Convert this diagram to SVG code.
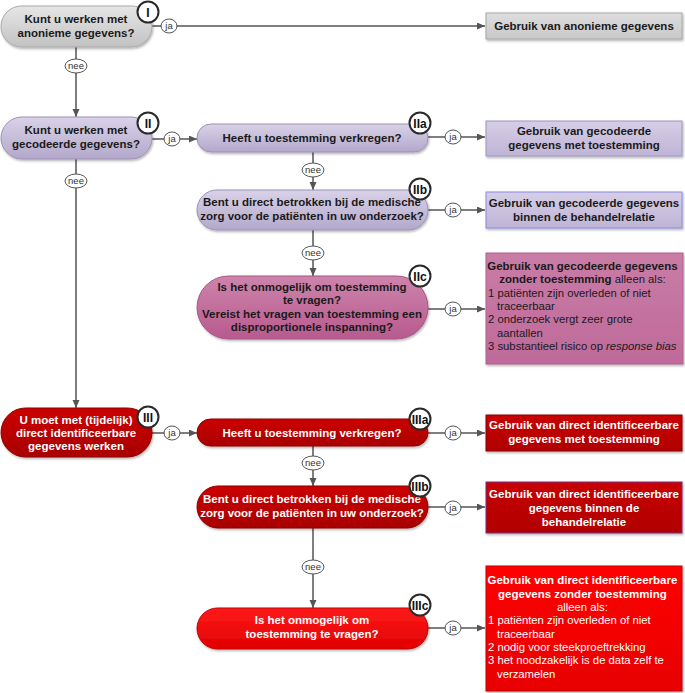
<svg xmlns="http://www.w3.org/2000/svg" width="685" height="693" viewBox="0 0 685 693">
<style>
text{font-family:"Liberation Sans",Arial,sans-serif;font-size:11.3px;}
.q{font-weight:bold;font-size:11.5px;fill:#1a1a1a;text-anchor:middle;}
.qw{font-weight:bold;font-size:11.5px;fill:#ffffff;text-anchor:middle;}
.bd{font-weight:bold;font-size:11.5px;}
.c{text-anchor:middle;}
.badge{fill:#ffffff;stroke:#2a2a2a;stroke-width:2;}
.bt{font-weight:bold;font-size:12px;fill:#111;text-anchor:middle;}
.conn{fill:none;stroke:#555555;stroke-width:1.5;}
.lbl{fill:#ffffff;stroke:#555555;stroke-width:1;}
.lt{font-size:9.5px;fill:#333;text-anchor:middle;}
</style>
<defs>
<linearGradient id="gGrey" x1="0" y1="0" x2="0" y2="1"><stop offset="0" stop-color="#e6e6e6"/><stop offset="1" stop-color="#c2c2c2"/></linearGradient>
<linearGradient id="gGreyBox" x1="0" y1="0" x2="0" y2="1"><stop offset="0" stop-color="#dedede"/><stop offset="1" stop-color="#c8c8c8"/></linearGradient>
<linearGradient id="gPur" x1="0" y1="0" x2="0" y2="1"><stop offset="0" stop-color="#d9d2e8"/><stop offset="1" stop-color="#b3a8cb"/></linearGradient>
<linearGradient id="gPurBox" x1="0" y1="0" x2="0" y2="1"><stop offset="0" stop-color="#d6cee6"/><stop offset="1" stop-color="#bfb4d6"/></linearGradient>
<linearGradient id="gPink" x1="0" y1="0" x2="0" y2="1"><stop offset="0" stop-color="#cd84ab"/><stop offset="1" stop-color="#b85a8e"/></linearGradient>
<linearGradient id="gPinkBox" x1="0" y1="0" x2="0" y2="1"><stop offset="0" stop-color="#c97ca6"/><stop offset="1" stop-color="#bf6a9a"/></linearGradient>
<linearGradient id="gRed" x1="0" y1="0" x2="0" y2="1"><stop offset="0" stop-color="#cc0000"/><stop offset="1" stop-color="#a80000"/></linearGradient>
<linearGradient id="gRedBox" x1="0" y1="0" x2="0" y2="1"><stop offset="0" stop-color="#c80000"/><stop offset="1" stop-color="#b00000"/></linearGradient>
<linearGradient id="gBright" x1="0" y1="0" x2="0" y2="1"><stop offset="0" stop-color="#ff1a1a"/><stop offset="1" stop-color="#e00000"/></linearGradient>
<linearGradient id="gBrightBox" x1="0" y1="0" x2="0" y2="1"><stop offset="0" stop-color="#ff0000"/><stop offset="1" stop-color="#e80000"/></linearGradient>
<filter id="sh" x="-10%" y="-20%" width="130%" height="150%"><feDropShadow dx="1" dy="1.5" stdDeviation="1.2" flood-color="#000" flood-opacity="0.3"/></filter>
<marker id="arr" markerUnits="userSpaceOnUse" markerWidth="9" markerHeight="8" refX="8" refY="3.5" orient="auto"><path d="M0,0 L8,3.5 L0,7 z" fill="#555555"/></marker>
</defs>

<g id="connectors">
<path class="conn" d="M152,26 H485" marker-end="url(#arr)"/>
<path class="conn" d="M76,47 V117" marker-end="url(#arr)"/>
<path class="conn" d="M152,139 H197" marker-end="url(#arr)"/>
<path class="conn" d="M428,137 H485" marker-end="url(#arr)"/>
<path class="conn" d="M313,152 V190" marker-end="url(#arr)"/>
<path class="conn" d="M428,210 H485" marker-end="url(#arr)"/>
<path class="conn" d="M313,230 V276" marker-end="url(#arr)"/>
<path class="conn" d="M428,309 H485" marker-end="url(#arr)"/>
<path class="conn" d="M76,159 V408" marker-end="url(#arr)"/>
<path class="conn" d="M152,433 H197" marker-end="url(#arr)"/>
<path class="conn" d="M428,433 H485" marker-end="url(#arr)"/>
<path class="conn" d="M313,446 V486" marker-end="url(#arr)"/>
<path class="conn" d="M428,507 H485" marker-end="url(#arr)"/>
<path class="conn" d="M313,528 V608" marker-end="url(#arr)"/>
<path class="conn" d="M428,628 H485" marker-end="url(#arr)"/>
<ellipse class="lbl" cx="169" cy="26" rx="8" ry="7"/><text class="lt" x="169" y="29">ja</text>
<ellipse class="lbl" cx="76" cy="66" rx="11" ry="7"/><text class="lt" x="76" y="69">nee</text>
<ellipse class="lbl" cx="172" cy="139" rx="8" ry="7"/><text class="lt" x="172" y="142">ja</text>
<ellipse class="lbl" cx="453" cy="137" rx="8" ry="7"/><text class="lt" x="453" y="140">ja</text>
<ellipse class="lbl" cx="313" cy="170" rx="11" ry="7"/><text class="lt" x="313" y="173">nee</text>
<ellipse class="lbl" cx="453" cy="210" rx="8" ry="7"/><text class="lt" x="453" y="213">ja</text>
<ellipse class="lbl" cx="313" cy="253" rx="11" ry="7"/><text class="lt" x="313" y="256">nee</text>
<ellipse class="lbl" cx="453" cy="309" rx="8" ry="7"/><text class="lt" x="453" y="312">ja</text>
<ellipse class="lbl" cx="76" cy="181" rx="11" ry="7"/><text class="lt" x="76" y="184">nee</text>
<ellipse class="lbl" cx="172" cy="433" rx="8" ry="7"/><text class="lt" x="172" y="436">ja</text>
<ellipse class="lbl" cx="453" cy="433" rx="8" ry="7"/><text class="lt" x="453" y="436">ja</text>
<ellipse class="lbl" cx="313" cy="463" rx="11" ry="7"/><text class="lt" x="313" y="466">nee</text>
<ellipse class="lbl" cx="453" cy="508" rx="8" ry="7"/><text class="lt" x="453" y="511">ja</text>
<ellipse class="lbl" cx="313" cy="567" rx="11" ry="7"/><text class="lt" x="313" y="570">nee</text>
<ellipse class="lbl" cx="453" cy="628" rx="8" ry="7"/><text class="lt" x="453" y="631">ja</text>
</g>

<g id="node-I">
<rect x="1" y="6" width="151" height="41" rx="20.5" fill="url(#gGrey)" stroke="#a8a8a8" filter="url(#sh)"/>
<text class="q" x="76" y="23">Kunt u werken met</text>
<text class="q" x="76" y="37">anonieme gegevens?</text>
<circle class="badge" cx="148" cy="12" r="10.5"/><text class="bt" x="148" y="16.5">I</text>
</g>
<g id="box-anoniem">
<rect x="486" y="13" width="196" height="26" fill="url(#gGreyBox)" stroke="#a6a6a6" filter="url(#sh)"/>
<text class="q" x="584" y="30">Gebruik van anonieme gegevens</text>
</g>

<g id="node-II">
<rect x="1" y="117" width="151" height="42" rx="21" fill="url(#gPur)" stroke="#9c92b6" filter="url(#sh)"/>
<text class="q" x="76" y="134">Kunt u werken met</text>
<text class="q" x="76" y="148">gecodeerde gegevens?</text>
<circle class="badge" cx="148" cy="123" r="10.5"/><text class="bt" x="148" y="127.5">II</text>
</g>
<g id="node-IIa">
<rect x="197" y="124" width="231" height="28" rx="14" fill="url(#gPur)" stroke="#9c92b6" filter="url(#sh)"/>
<text class="q" x="312" y="142">Heeft u toestemming verkregen?</text>
<circle class="badge" cx="420" cy="123" r="10.5"/><text class="bt" x="420" y="127.5">IIa</text>
</g>
<g id="box-IIa">
<rect x="486" y="121" width="196" height="35" fill="url(#gPurBox)" stroke="#9e96bc" filter="url(#sh)"/>
<text class="q" x="584" y="135">Gebruik van gecodeerde</text>
<text class="q" x="584" y="149">gegevens met toestemming</text>
</g>
<g id="node-IIb">
<rect x="197" y="190" width="231" height="40" rx="20" fill="url(#gPur)" stroke="#9c92b6" filter="url(#sh)"/>
<text class="q" x="312" y="206">Bent u direct betrokken bij de medische</text>
<text class="q" x="312" y="220">zorg voor de patiënten in uw onderzoek?</text>
<circle class="badge" cx="420" cy="189" r="10.5"/><text class="bt" x="420" y="193.5">IIb</text>
</g>
<g id="box-IIb">
<rect x="486" y="192" width="196" height="36" fill="url(#gPurBox)" stroke="#8a8ae0" filter="url(#sh)"/>
<text class="q" x="584" y="207">Gebruik van gecodeerde gegevens</text>
<text class="q" x="584" y="221">binnen de behandelrelatie</text>
</g>
<g id="node-IIc">
<rect x="197" y="276" width="231" height="63" rx="31.5" fill="url(#gPink)" stroke="#a85484" filter="url(#sh)"/>
<text class="q" x="312" y="291">Is het onmogelijk om toestemming</text>
<text class="q" x="312" y="304">te vragen?</text>
<text class="q" x="312" y="318">Vereist het vragen van toestemming een</text>
<text class="q" x="312" y="331">disproportionele inspanning?</text>
<circle class="badge" cx="420" cy="276" r="10.5"/><text class="bt" x="420" y="280.5">IIc</text>
</g>
<g id="box-IIc">
<rect x="486" y="253" width="197" height="111" fill="url(#gPinkBox)" stroke="#b06090" filter="url(#sh)"/>
<text fill="#1a1a1a">
<tspan class="bd c" x="584" y="270">Gebruik van gecodeerde gegevens</tspan>
<tspan class="c" x="584" y="283"><tspan class="bd">zonder toestemming</tspan> alleen als:</tspan>
<tspan x="488" y="297">1 patiënten zijn overleden of niet</tspan>
<tspan x="497" y="310">traceerbaar</tspan>
<tspan x="488" y="323">2 onderzoek vergt zeer grote</tspan>
<tspan x="497" y="337">aantallen</tspan>
<tspan x="488" y="350">3 substantieel risico op <tspan font-style="italic">response bias</tspan></tspan>
</text>
</g>

<g id="node-III">
<rect x="1" y="408" width="151" height="49" rx="24.5" fill="url(#gRed)" stroke="#900000" filter="url(#sh)"/>
<text class="qw" x="76" y="424">U moet met (tijdelijk)</text>
<text class="qw" x="76" y="437">direct identificeerbare</text>
<text class="qw" x="76" y="450">gegevens werken</text>
<circle class="badge" cx="148" cy="417" r="10.5"/><text class="bt" x="148" y="421.5">III</text>
</g>
<g id="node-IIIa">
<rect x="197" y="419" width="231" height="27" rx="13.5" fill="url(#gRed)" stroke="#900000" filter="url(#sh)"/>
<text class="qw" x="312" y="437">Heeft u toestemming verkregen?</text>
<circle class="badge" cx="420" cy="419" r="10.5"/><text class="bt" x="420" y="423.5">IIIa</text>
</g>
<g id="box-IIIa">
<rect x="486" y="415" width="196" height="36" fill="url(#gRedBox)" stroke="#8a0000" filter="url(#sh)"/>
<text class="qw" x="584" y="429">Gebruik van direct identificeerbare</text>
<text class="qw" x="584" y="443">gegevens met toestemming</text>
</g>
<g id="node-IIIb">
<rect x="197" y="486" width="231" height="42" rx="21" fill="url(#gRed)" stroke="#900000" filter="url(#sh)"/>
<text class="qw" x="312" y="503">Bent u direct betrokken bij de medische</text>
<text class="qw" x="312" y="517">zorg voor de patiënten in uw onderzoek?</text>
<circle class="badge" cx="420" cy="486" r="10.5"/><text class="bt" x="420" y="490.5">IIIb</text>
</g>
<g id="box-IIIb">
<rect x="486" y="482" width="196" height="51" fill="url(#gRedBox)" stroke="#7a2a8a" filter="url(#sh)"/>
<text class="qw" x="584" y="498">Gebruik van direct identificeerbare</text>
<text class="qw" x="584" y="512">gegevens binnen de</text>
<text class="qw" x="584" y="526">behandelrelatie</text>
</g>
<g id="node-IIIc">
<rect x="197" y="608" width="231" height="41" rx="20.5" fill="url(#gBright)" stroke="#c00000" filter="url(#sh)"/>
<text class="qw" x="312" y="624">Is het onmogelijk om</text>
<text class="qw" x="312" y="638">toestemming te vragen?</text>
<circle class="badge" cx="420" cy="605" r="10.5"/><text class="bt" x="420" y="609.5">IIIc</text>
</g>
<g id="box-IIIc">
<rect x="486" y="566" width="196" height="125" fill="url(#gBrightBox)" stroke="#c80000" filter="url(#sh)"/>
<text fill="#ffffff">
<tspan class="bd c" x="584" y="584">Gebruik van direct identificeerbare</tspan>
<tspan class="bd c" x="584" y="598">gegevens zonder toestemming</tspan>
<tspan class="c" x="584" y="611">alleen als:</tspan>
<tspan x="488" y="624">1 patiënten zijn overleden of niet</tspan>
<tspan x="497" y="638">traceerbaar</tspan>
<tspan x="488" y="651">2 nodig voor steekproeftrekking</tspan>
<tspan x="488" y="664">3 het noodzakelijk is de data zelf te</tspan>
<tspan x="497" y="678">verzamelen</tspan>
</text>
</g>
</svg>
